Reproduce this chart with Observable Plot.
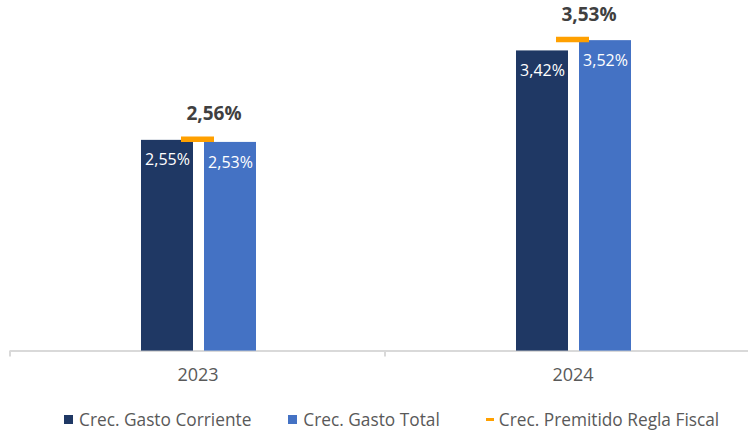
<!DOCTYPE html>
<html>
<head>
<meta charset="utf-8">
<script src="https://cdn.jsdelivr.net/npm/d3@7"></script>
<script src="https://cdn.jsdelivr.net/npm/@observablehq/plot@0.6"></script>
<style>
  html, body { margin: 0; padding: 0; background: white; }
  #chart { width: 748px; }
  #legend { display: flex; align-items: center; height: 32px; padding-left: 64px; margin-top: 3px;
            font-family: 'Open Sans', sans-serif; font-size: 17.3px; color: #595959; white-space: nowrap; }
  #legend .item { display: flex; align-items: center; }
  #legend .item + .item { margin-left: 37px; }
  #legend .item + .item + .item { margin-left: 46px; }
  #legend .sw { display: inline-block; width: 9px; height: 9px; margin-right: 6px; }
  #legend .dash { display: inline-block; width: 8px; height: 3px; margin-right: 5px; }
</style>
</head>
<body>
<div id="chart"></div>
<div id="legend"></div>
<script>
const years = ["2023", "2024"];
const seriesKeys = ["Corriente", "Total"];
const gastoCorriente = [2.55, 3.42];
const gastoTotal = [2.53, 3.52];
const reglaFiscal = [2.56, 3.53];
const legendLabels = ["Crec. Gasto Corriente", "Crec. Gasto Total", "Crec. Premitido Regla Fiscal"];
const barColors = ["#1F3864", "#4472C4"];
const reglaColor = "#FFA000";

const bars = years.flatMap((y, i) => [
  {year: y, series: seriesKeys[0], value: gastoCorriente[i]},
  {year: y, series: seriesKeys[1], value: gastoTotal[i]}
]);
const regla = years.map((y, i) => ({year: y, value: reglaFiscal[i]}));

const fmt = d3.formatLocale({decimal: ",", thousands: ".", grouping: [3], currency: ["", ""]}).format(".2f");
const pct = v => fmt(v) + "%";

const chart = Plot.plot({
  width: 748,
  height: 400,
  marginTop: 0,
  marginLeft: 10,
  marginRight: 0,
  marginBottom: 50,
  style: {fontFamily: "'Open Sans', sans-serif", fontSize: "18px", color: "#595959", background: "white"},
  fx: {domain: years, range: [10, 760], padding: 0, label: null, tickSize: 0, tickPadding: 18, axis: "bottom"},
  x: {domain: seriesKeys, range: [141, 256], paddingInner: 11 / 63, paddingOuter: 0, axis: null},
  y: {domain: [0.5, 4], range: [350.6, -9.2], clamp: true, axis: null},
  color: {domain: seriesKeys, range: barColors},
  marks: [
    Plot.ruleY([0.5], {stroke: "#D9D9D9", strokeWidth: 2}),
    Plot.barY(bars, {fx: "year", x: "series", y: "value", fill: "series"}),
    Plot.tickY(regla, {fx: "year", y: "value", stroke: reglaColor, strokeWidth: 5.5, insetLeft: 171, insetRight: 171}),
    Plot.text(bars, {fx: "year", x: "series", y: "value", text: d => pct(d.value), dy: 20, fill: "white", fontSize: 16}),
    Plot.text(regla, {fx: "year", y: "value", text: d => pct(d.value), dy: -25, dx: 16, fill: "#404040", fontWeight: "bold", fontSize: 19})
  ]
});
document.getElementById("chart").appendChild(chart);

// boundary tick marks on the category axis, from Plot's fx scale
const fxS = chart.scale("fx");
const band = d3.scaleBand(fxS.domain, fxS.range).padding(0);
const yS = chart.scale("y");
const y0 = d3.scaleLinear(yS.domain, yS.range)(yS.domain[0]);
const bounds = [band(years[0]), ...years.map(y => band(y) + band.bandwidth())];
d3.select(chart).append("g")
  .selectAll("line").data(bounds).join("line")
  .attr("x1", d => d).attr("x2", d => d)
  .attr("y1", y0).attr("y2", y0 + 6)
  .attr("stroke", "#D9D9D9").attr("stroke-width", 2);

// legend
const legend = d3.select("#legend");
legendLabels.forEach((lab, i) => {
  const item = legend.append("div").attr("class", "item");
  if (i < 2) item.append("span").attr("class", "sw").style("background", barColors[i]);
  else item.append("span").attr("class", "dash").style("background", reglaColor);
  item.append("span").text(lab);
});
</script>
</body>
</html>
